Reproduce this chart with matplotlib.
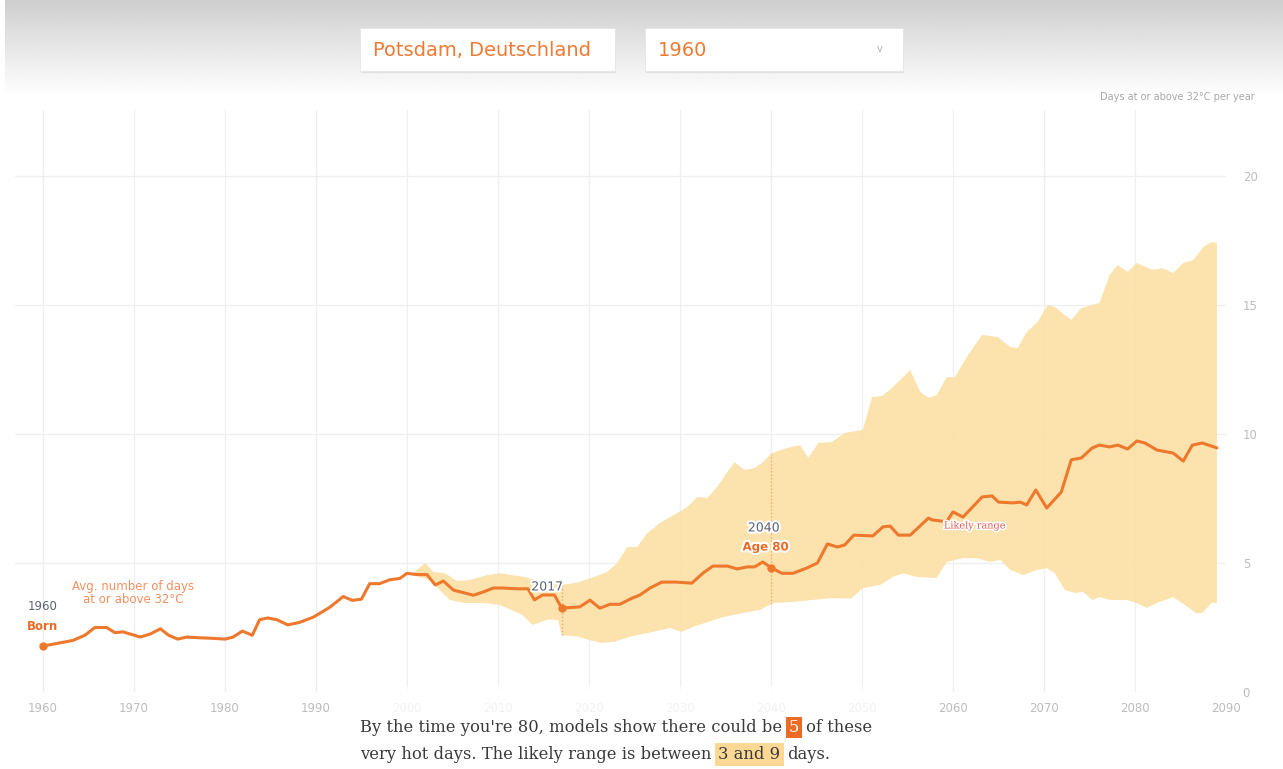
import numpy as np
import matplotlib
matplotlib.use("Agg")
import matplotlib.pyplot as plt
from matplotlib.patches import Rectangle
import matplotlib.patheffects as pe

W, H = 1283, 769

C_LINE = "#ee782c"
C_BAND = "#fce0a6"
C_GRID = "#efefef"
C_TICK = "#bdbdbd"
C_INK = "#3a3a3a"
C_LABEL = "#5a6270"

# mean number of days >= 32°C
mean_years = [1960, 1963.3, 1964.6, 1965.7, 1967, 1967.9, 1968.8, 1970.7, 1971.8, 1972.9,
              1973.8, 1974.8, 1975.8, 1977.3, 1978.7, 1980, 1980.9, 1981.9, 1983, 1983.8,
              1984.7, 1985.7, 1986.9, 1988.2, 1989.7, 1991.5, 1993, 1994, 1995, 1995.9,
              1997, 1998.1, 1999.2, 2000, 2001.1, 2002.2, 2003.1, 2004, 2005.1, 2006.2,
              2007.3, 2008.4, 2009.5, 2010.5, 2012.1, 2013.3, 2014, 2014.9, 2016.2, 2017,
              2019, 2020.1, 2021.2, 2022.3, 2023.4, 2024.5, 2025.6, 2026.7, 2028, 2029.5,
              2031.3, 2032.5, 2033.6, 2035.2, 2036.3, 2037.4, 2038.2, 2039.1, 2040, 2041.2,
              2042.4, 2043.9, 2045.1, 2046.2, 2047.3, 2048.1, 2049.1, 2051.2, 2052.3, 2053.1,
              2054, 2055.3, 2057.3, 2057.7, 2059.3, 2060, 2061.1, 2063.2, 2064.3, 2065,
              2066.6, 2067.4, 2068.1, 2069.1, 2070.3, 2071.9, 2073, 2074.1, 2075.3, 2076.1,
              2077.2, 2078.1, 2079.2, 2080.2, 2081.1, 2082.4, 2084.2, 2085.3, 2086.3, 2087.4,
              2089]
mean_days = [1.78, 2.0, 2.2, 2.5, 2.5, 2.3, 2.33, 2.13, 2.25, 2.45,
             2.2, 2.05, 2.13, 2.1, 2.08, 2.05, 2.13, 2.36, 2.2, 2.8,
             2.87, 2.8, 2.6, 2.7, 2.9, 3.28, 3.7, 3.55, 3.6, 4.2,
             4.2, 4.35, 4.4, 4.6, 4.55, 4.55, 4.15, 4.3, 3.95, 3.85,
             3.75, 3.88, 4.03, 4.03, 4.0, 4.0, 3.57, 3.76, 3.76, 3.25,
             3.3, 3.56, 3.25, 3.4, 3.4, 3.6, 3.76, 4.03, 4.26, 4.26,
             4.22, 4.6, 4.88, 4.88, 4.77, 4.85, 4.85, 5.04, 4.82, 4.6,
             4.6, 4.8, 5.0, 5.74, 5.62, 5.7, 6.08, 6.05, 6.4, 6.43,
             6.08, 6.08, 6.74, 6.67, 6.6, 6.98, 6.78, 7.56, 7.6, 7.36,
             7.33, 7.36, 7.25, 7.83, 7.13, 7.75, 9.0, 9.07, 9.46, 9.57,
             9.5, 9.57, 9.42, 9.73, 9.65, 9.38, 9.26, 8.95, 9.57, 9.65,
             9.46]

# likely range, upper edge
upper_years = [2000.5, 2002, 2002.9, 2004.2, 2005.5, 2006.9, 2008.8, 2010.2, 2011.5, 2012.9,
               2014.5, 2017, 2018.7, 2020.4, 2022, 2023.1, 2024.2, 2025.3, 2026.4, 2027.8,
               2029.7, 2030.8, 2031.9, 2033, 2034.1, 2035.2, 2036, 2037.1, 2038.2, 2039.1,
               2040.1, 2041.8, 2043.2, 2044.1, 2045.2, 2046.7, 2048.1, 2050.1, 2051.1, 2052.2,
               2053.4, 2055.3, 2056.4, 2057.3, 2058.2, 2059.3, 2060.2, 2061.5, 2063.2, 2064.9,
               2066.3, 2067.1, 2068.1, 2069.3, 2070.4, 2071.2, 2073, 2074.1, 2076.1, 2077.2,
               2078.1, 2079.2, 2080.2, 2081.9, 2083, 2084.2, 2085.3, 2086.4, 2087.5, 2088.4,
               2089]
upper_days = [4.55, 5.0, 4.65, 4.6, 4.3, 4.34, 4.53, 4.6, 4.53, 4.46,
              4.3, 4.15, 4.24, 4.44, 4.65, 5.0, 5.62, 5.62, 6.16, 6.55,
              6.94, 7.17, 7.56, 7.52, 7.95, 8.53, 8.91, 8.6, 8.68, 8.91,
              9.26, 9.46, 9.57, 9.07, 9.65, 9.69, 10.04, 10.16, 11.43, 11.47,
              11.82, 12.48, 11.63, 11.4, 11.5, 12.2, 12.2, 12.98, 13.84, 13.76,
              13.37, 13.33, 13.95, 14.34, 15.0, 14.92, 14.42, 14.88, 15.08, 16.16,
              16.55, 16.28, 16.63, 16.36, 16.43, 16.24, 16.63, 16.74, 17.25, 17.44,
              17.4]

# likely range, lower edge
lower_years = [2000.5, 2002.5, 2004.7, 2006.2, 2008.4, 2010.2, 2011.5, 2012.7, 2013.8, 2015.4,
               2016.6, 2017, 2018.7, 2020.2, 2021.4, 2022.8, 2024.6, 2027, 2028.9, 2030.2,
               2031.4, 2033, 2034.7, 2036.9, 2038.8, 2040.2, 2042.4, 2044.6, 2046.8, 2048.8,
               2050.1, 2052, 2053.4, 2054.5, 2056, 2058.2, 2059.3, 2061.1, 2062.6, 2064.1,
               2065.2, 2066.3, 2067.7, 2069.2, 2070.3, 2071.2, 2072.3, 2073.4, 2074.3, 2075.3,
               2076.1, 2077.2, 2079.1, 2080.2, 2081.3, 2082.4, 2084.2, 2085.8, 2086.7, 2087.4,
               2088.4, 2089]
lower_days = [4.55, 4.34, 3.57, 3.45, 3.45, 3.37, 3.18, 2.98, 2.6, 2.8,
              2.8, 2.2, 2.15, 2.0, 1.9, 1.95, 2.15, 2.33, 2.48, 2.33,
              2.52, 2.71, 2.9, 3.06, 3.18, 3.45, 3.49, 3.57, 3.64, 3.62,
              4.03, 4.15, 4.46, 4.6, 4.46, 4.42, 5.04, 5.19, 5.19, 5.04,
              5.12, 4.73, 4.53, 4.73, 4.8, 4.6, 3.95, 3.84, 3.88, 3.57,
              3.68, 3.57, 3.57, 3.45, 3.26, 3.45, 3.68, 3.3, 3.06, 3.06,
              3.45, 3.45]

x_ticks = list(range(1960, 2091, 10))
y_ticks = [0, 5, 10, 15, 20]

# marked years: birth, today, age 80
marks = {"born": 1960, "now": 2017, "age80": 2040}


def fx(px):
    return px / W


def fy(py):
    return 1 - py / H


fig = plt.figure(figsize=(W / 100, H / 100), dpi=100)
fig.patch.set_facecolor("white")

# --- header band with the two selectors
hax = fig.add_axes([fx(5), fy(96), fx(W - 5), 96 / H])
grad = np.linspace(0.81, 1.0, 64).reshape(-1, 1)
hax.imshow(grad, aspect="auto", cmap="gray", vmin=0, vmax=1, extent=[0, 1, 0, 1])
hax.axis("off")

for (x0, x1), txt in [((360, 615), "Potsdam, Deutschland"), ((645, 903), "1960")]:
    shadow = Rectangle((fx(x0 + 1), fy(73)), fx(x1 - x0), 45 / H, transform=fig.transFigure,
                       facecolor="#000000", alpha=0.08, edgecolor="none", zorder=2)
    box = Rectangle((fx(x0), fy(71)), fx(x1 - x0), 43 / H, transform=fig.transFigure,
                    facecolor="white", edgecolor="#e6e6e6", linewidth=0.6, zorder=3)
    fig.add_artist(shadow)
    fig.add_artist(box)
    fig.text(fx(x0 + 13), fy(50), txt, ha="left", va="center", fontsize=14,
             family="DejaVu Sans", fontweight="medium", color="#f07a34", zorder=4)
fig.text(fx(880), fy(49), "v", ha="center", va="center", fontsize=7, color="#b0b0b0", zorder=4)

fig.text(fx(1255), fy(97), "Days at or above 32°C per year", ha="right", va="center",
         fontsize=7, color="#a8a8a8")

# --- main chart
ax = fig.add_axes([fx(15), fy(692), fx(1226 - 15), (692 - 110) / H])
ax.set_xlim(1960 - 28 / 9.1, 2090)
ax.set_ylim(0, (692 - 110) / 25.8)
for s in ax.spines.values():
    s.set_visible(False)
ax.set_xticks(x_ticks)
ax.set_yticks(y_ticks)
ax.yaxis.tick_right()
ax.tick_params(axis="both", length=0, labelsize=8.5, labelcolor=C_TICK)
ax.tick_params(axis="x", pad=7)
ax.tick_params(axis="y", pad=12)
ax.grid(True, color=C_GRID, linewidth=0.9, zorder=0)
ax.set_axisbelow(True)

band_x = np.concatenate([upper_years, lower_years[::-1]])
band_y = np.concatenate([upper_days, lower_days[::-1]])
ax.fill(band_x, band_y, color=C_BAND, alpha=0.92, linewidth=0, zorder=1)

ax.plot(mean_years, mean_days, color=C_LINE, linewidth=2.2, zorder=4,
        solid_joinstyle="round", solid_capstyle="round")

# dotted guides across the likely range
for key in ("now", "age80"):
    yr = marks[key]
    top = np.interp(yr, upper_years, upper_days)
    bot = np.interp(yr, lower_years, lower_days)
    ax.plot([yr, yr], [bot, top], color=C_LINE, linewidth=1.0, linestyle=(0, (1, 1.5)),
            alpha=0.55, zorder=3)

halo = [pe.withStroke(linewidth=3, foreground="white")]
for key in ("born", "now", "age80"):
    yr = marks[key]
    ax.plot([yr], [np.interp(yr, mean_years, mean_days)], "o", color=C_LINE,
            markersize=6, markeredgewidth=0, zorder=5)

# annotations
ax.text(marks["born"], (692 - 607) / 25.8, "1960", ha="center", va="center",
        fontsize=8.5, color=C_LABEL, zorder=6)
ax.text(marks["born"], (692 - 626) / 25.8, "Born", ha="center", va="center",
        fontsize=8.5, fontweight="bold", color="#ea6a26", zorder=6)
ax.text(1969.9, (692 - 593) / 25.8, "Avg. number of days\nat or above 32°C", ha="center",
        va="center", fontsize=8.5, color="#f29060", linespacing=0.95, zorder=6)
ax.text(2015.4, (692 - 587) / 25.8, "2017", ha="center", va="center", fontsize=9,
        color=C_LABEL, path_effects=halo, zorder=6)
ax.text(2039.2, (692 - 528) / 25.8, "2040", ha="center", va="center", fontsize=9,
        color=C_LABEL, path_effects=halo, zorder=6)
ax.text(2039.4, (692 - 547) / 25.8, "Age 80", ha="center", va="center", fontsize=8.5,
        fontweight="bold", color="#ea6a26", path_effects=halo, zorder=6)
ax.text(2062.4, (692 - 526) / 25.8, "Likely range", ha="center", va="center",
        fontsize=7, color="#e0584a", family="DejaVu Serif",
        path_effects=[pe.withStroke(linewidth=2.5, foreground="white")], zorder=6)

# --- sentence box below the chart (covers part of the axis)
fig.add_artist(Rectangle((fx(340), 0), fx(590), fy(686), transform=fig.transFigure,
                         facecolor="white", alpha=0.8, edgecolor="none", zorder=10))

renderer = fig.canvas.get_renderer()
font = dict(family="DejaVu Serif", fontsize=11.8, color=C_INK)


def measure(s):
    t = fig.text(0, 0, s, **font)
    w = t.get_window_extent(renderer).width
    t.remove()
    return w


space = measure("a a") - measure("aa")


def rich_line(pieces, x0, ybase):
    x = x0
    for txt, kind in pieces:
        kw = dict(font)
        if kind == "num":
            kw["color"] = "white"
            kw["bbox"] = dict(boxstyle="square,pad=0.15", facecolor="#ea6a26", edgecolor="none")
        elif kind == "range":
            kw["bbox"] = dict(boxstyle="square,pad=0.2", facecolor="#fcd894", edgecolor="none")
        t = fig.text(fx(x), fy(ybase), txt, ha="left", va="baseline", zorder=11, **kw)
        x += t.get_window_extent(renderer).width + space * 1.3


rich_line([("By the time you're 80, models show there could be", "txt"), ("5", "num"),
           ("of these", "txt")], 360, 732)
rich_line([("very hot days. The likely range is between", "txt"), ("3 and 9", "range"),
           ("days.", "txt")], 360, 759)

fig.savefig("out.png", dpi=100, facecolor="white")
